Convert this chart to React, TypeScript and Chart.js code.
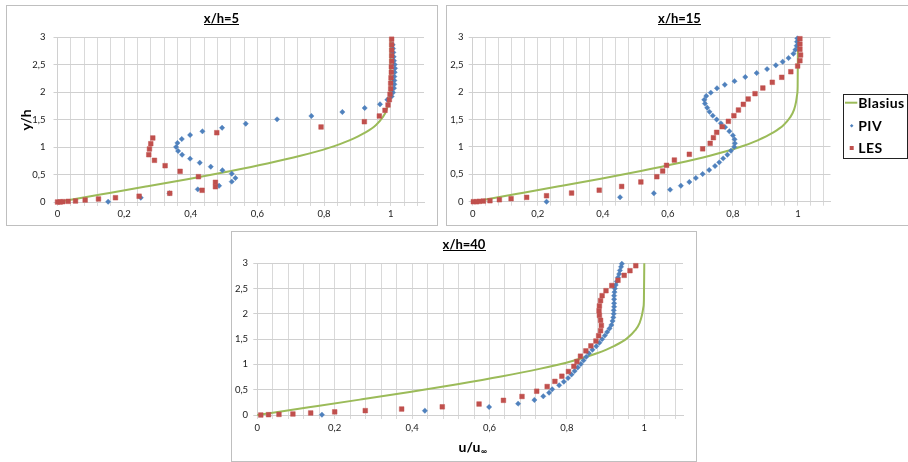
import React, { useEffect, useRef } from 'react';
import { Chart, registerables } from 'chart.js';

Chart.register(...registerables);

// ---------- data ----------
const BLASIUS_U = [0, 0.133, 0.265, 0.394, 0.517, 0.63, 0.729, 0.812, 0.876, 0.923, 0.956, 0.976, 0.988, 0.994, 0.9975, 0.999, 1.0];
const BLASIUS_Y_5 = [0, 0.14, 0.28, 0.42, 0.56, 0.7, 0.84, 0.98, 1.12, 1.26, 1.4, 1.54, 1.68, 1.82, 1.96, 2.1, 3.0];
const BLASIUS_Y_15 = [0, 0.14, 0.28, 0.42, 0.56, 0.7, 0.84, 0.98, 1.12, 1.26, 1.4, 1.54, 1.68, 1.82, 1.96, 2.1, 3.0];
const BLASIUS_Y_40 = [0, 0.152, 0.304, 0.456, 0.608, 0.76, 0.912, 1.064, 1.216, 1.368, 1.52, 1.672, 1.824, 1.976, 2.128, 2.28, 3.0];

const PIV_5: [number, number][] = [
  [0.152, 0.005], [0.25, 0.078], [0.336, 0.158], [0.421, 0.23], [0.485, 0.295], [0.523, 0.37], [0.534, 0.436],
  [0.523, 0.515], [0.495, 0.576], [0.46, 0.642], [0.427, 0.715], [0.398, 0.788], [0.374, 0.86], [0.362, 0.927],
  [0.356, 1.0], [0.36, 1.073], [0.373, 1.145], [0.398, 1.218], [0.435, 1.285], [0.494, 1.35], [0.565, 1.424],
  [0.659, 1.503], [0.762, 1.564], [0.855, 1.636], [0.922, 1.709], [0.968, 1.776], [0.99, 1.86], [1.003, 1.92],
  [1.007, 1.99], [1.01, 2.07], [1.011, 2.14], [1.011, 2.21], [1.011, 2.28], [1.012, 2.36], [1.013, 2.43],
  [1.012, 2.5], [1.01, 2.57], [1.009, 2.64], [1.008, 2.72], [1.007, 2.79], [1.006, 2.86],
];
const LES_5: [number, number][] = [
  [0.0, 0.0], [0.008, 0.0], [0.016, 0.006], [0.032, 0.012], [0.054, 0.018], [0.083, 0.036], [0.123, 0.055],
  [0.174, 0.078], [0.245, 0.105], [0.337, 0.158], [0.434, 0.213], [0.474, 0.278], [0.474, 0.358], [0.423, 0.46],
  [0.368, 0.558], [0.323, 0.66], [0.291, 0.758], [0.274, 0.86], [0.276, 0.964], [0.28, 1.06], [0.286, 1.164],
  [0.478, 1.26], [0.791, 1.364], [0.921, 1.46], [0.966, 1.564], [0.983, 1.667], [0.992, 1.764], [0.996, 1.86],
  [0.998, 1.96], [1.0, 2.06], [1.0, 2.16], [1.001, 2.26], [1.002, 2.36], [1.002, 2.46], [1.003, 2.56],
  [1.003, 2.66], [1.003, 2.76], [1.003, 2.86], [1.003, 2.96],
];

const PIV_15: [number, number][] = [
  [0.227, 0.0], [0.453, 0.08], [0.557, 0.153], [0.607, 0.22], [0.64, 0.292], [0.666, 0.36], [0.686, 0.432],
  [0.707, 0.505], [0.727, 0.578], [0.745, 0.651], [0.758, 0.718], [0.77, 0.79], [0.783, 0.858], [0.794, 0.93],
  [0.804, 1.0], [0.806, 1.065], [0.805, 1.138], [0.8, 1.21], [0.789, 1.285], [0.776, 1.36], [0.763, 1.43],
  [0.75, 1.5], [0.738, 1.57], [0.728, 1.64], [0.721, 1.715], [0.714, 1.79], [0.712, 1.86], [0.718, 1.93],
  [0.732, 1.99], [0.751, 2.07], [0.775, 2.135], [0.805, 2.2], [0.838, 2.275], [0.873, 2.348], [0.905, 2.42],
  [0.932, 2.489], [0.953, 2.555], [0.971, 2.622], [0.986, 2.7], [0.992, 2.774], [0.996, 2.847], [0.997, 2.92],
  [0.998, 2.98],
];
const LES_15: [number, number][] = [
  [0.002, 0.0], [0.012, 0.0], [0.02, 0.006], [0.033, 0.012], [0.053, 0.018], [0.082, 0.036], [0.118, 0.055],
  [0.166, 0.079], [0.227, 0.109], [0.304, 0.158], [0.389, 0.21], [0.458, 0.278], [0.517, 0.36], [0.566, 0.456],
  [0.584, 0.56], [0.596, 0.664], [0.62, 0.76], [0.666, 0.865], [0.707, 0.965], [0.73, 1.065], [0.74, 1.168],
  [0.75, 1.266], [0.767, 1.369], [0.786, 1.467], [0.803, 1.569], [0.817, 1.673], [0.832, 1.777], [0.847, 1.874],
  [0.868, 1.971], [0.892, 2.075], [0.921, 2.179], [0.95, 2.27], [0.978, 2.372], [0.999, 2.476], [1.006, 2.573],
  [1.008, 2.677], [1.006, 2.78], [1.006, 2.876], [1.006, 2.974],
];

const PIV_40: [number, number][] = [
  [0.167, 0.006], [0.433, 0.085], [0.599, 0.158], [0.674, 0.224], [0.716, 0.297], [0.739, 0.37], [0.754, 0.441],
  [0.762, 0.508], [0.78, 0.587], [0.792, 0.659], [0.803, 0.73], [0.812, 0.8], [0.82, 0.87], [0.828, 0.94],
  [0.836, 1.01], [0.843, 1.08], [0.85, 1.15], [0.857, 1.22], [0.866, 1.29], [0.876, 1.36], [0.884, 1.43],
  [0.891, 1.5], [0.898, 1.57], [0.904, 1.64], [0.91, 1.71], [0.915, 1.78], [0.918, 1.86], [0.92, 1.93],
  [0.921, 2.0], [0.921, 2.07], [0.922, 2.14], [0.922, 2.21], [0.922, 2.29], [0.922, 2.36], [0.923, 2.43],
  [0.924, 2.5], [0.926, 2.57], [0.929, 2.64], [0.932, 2.72], [0.935, 2.79], [0.937, 2.86], [0.94, 2.93],
  [0.942, 2.99],
];
const LES_40: [number, number][] = [
  [0.009, 0.0], [0.029, 0.006], [0.056, 0.012], [0.092, 0.02], [0.138, 0.04], [0.2, 0.062], [0.279, 0.086],
  [0.373, 0.118], [0.478, 0.162], [0.573, 0.217], [0.636, 0.29], [0.684, 0.366], [0.722, 0.47], [0.749, 0.563],
  [0.769, 0.665], [0.787, 0.767], [0.804, 0.86], [0.818, 0.962], [0.826, 1.057], [0.835, 1.163], [0.849, 1.268],
  [0.862, 1.367], [0.875, 1.463], [0.882, 1.568], [0.887, 1.667], [0.889, 1.77], [0.887, 1.872], [0.884, 1.97],
  [0.883, 2.063], [0.884, 2.158], [0.887, 2.262], [0.891, 2.36], [0.901, 2.458], [0.916, 2.56], [0.932, 2.664],
  [0.948, 2.762], [0.963, 2.854], [0.978, 2.952],
];

const X_LABELS = [0, 0.2, 0.4, 0.6, 0.8, 1];
const Y_TICKS = [0, 0.5, 1, 1.5, 2, 2.5, 3];
const SERIES_NAMES = ['Blasius', 'PIV', 'LES'];
const TITLES = ['x/h=5', 'x/h=15', 'x/h=40'];

// ---------- styling ----------
const FONT = "Lato, 'Open Sans', 'DejaVu Sans', sans-serif";
const GREEN = '#9BBB59';
const BLUE = '#4F81BD';
const RED = '#C0504D';
const X_MIN = 0;
const X_MAX = 1.1;
const X_MINOR = 0.04;

const fmt = (v: number) => String(+v.toFixed(2)).replace('.', ',');

type PanelCfg = {
  title: string;
  blasiusY: number[];
  piv: [number, number][];
  les: [number, number][];
  box: { left: number; top: number; width: number; height: number };
  padTop: number; padRight: number; yW: number; xH: number; yPad: number; xPad: number;
  titleX: number; titleY: number;
  yTitle?: { x: number; y: number };
  xTitle?: { x: number; y: number };
  legend?: { x0: number; y0: number; x1: number; y1: number };
};

const PANELS: PanelCfg[] = [
  {
    title: TITLES[0], blasiusY: BLASIUS_Y_5, piv: PIV_5, les: LES_5,
    box: { left: 6, top: 5, width: 432, height: 221 },
    padTop: 31, padRight: 13, yW: 50.5, xH: 23, yPad: 8, xPad: 2.5,
    titleX: 214.5, titleY: 16.7,
    yTitle: { x: 19.5, y: 114 },
  },
  {
    title: TITLES[1], blasiusY: BLASIUS_Y_15, piv: PIV_15, les: LES_15,
    box: { left: 446, top: 5, width: 467, height: 221 },
    padTop: 31.3, padRight: 81.5, yW: 25.7, xH: 23.3, yPad: 5.2, xPad: 3,
    titleX: 232.5, titleY: 16.7,
    legend: { x0: 396.5, y0: 88.5, x1: 460.5, y1: 152.5 },
  },
  {
    title: TITLES[2], blasiusY: BLASIUS_Y_40, piv: PIV_40, les: LES_40,
    box: { left: 231, top: 231, width: 466, height: 231 },
    padTop: 31.3, padRight: 13, yW: 25.3, xH: 46, yPad: 5.2, xPad: 3.5,
    titleX: 232, titleY: 17.3,
    xTitle: { x: 226.5, y: 219.5 },
  },
];

function decorPlugin(p: PanelCfg) {
  return {
    id: 'decor',
    afterDraw(chart: any) {
      const ctx: CanvasRenderingContext2D = chart.ctx;
      ctx.save();
      // underlined title
      ctx.fillStyle = '#000';
      ctx.font = `bold 13px ${FONT}`;
      ctx.textAlign = 'center';
      ctx.textBaseline = 'alphabetic';
      ctx.fillText(p.title, p.titleX, p.titleY);
      const tw = ctx.measureText(p.title).width;
      ctx.fillRect(Math.round(p.titleX - tw / 2), Math.round(p.titleY + 1), Math.round(tw), 1);

      if (p.yTitle) {
        ctx.save();
        ctx.translate(p.yTitle.x, p.yTitle.y);
        ctx.rotate(-Math.PI / 2);
        ctx.font = `bold 14px ${FONT}`;
        ctx.textAlign = 'center';
        ctx.textBaseline = 'middle';
        ctx.fillText('y/h', 0, 0);
        ctx.restore();
      }
      if (p.xTitle) {
        ctx.font = `bold 14px ${FONT}`;
        ctx.textAlign = 'left';
        ctx.textBaseline = 'alphabetic';
        ctx.fillText('u/u', p.xTitle.x, p.xTitle.y);
        const w = ctx.measureText('u/u').width;
        ctx.font = `bold 8px ${FONT}`;
        ctx.fillText('\u221E', p.xTitle.x + w + 0.5, p.xTitle.y + 2);
      }
      if (p.legend) {
        const L = p.legend;
        ctx.strokeStyle = '#222';
        ctx.lineWidth = 1;
        ctx.strokeRect(L.x0, L.y0, L.x1 - L.x0, L.y1 - L.y0);
        const mx = L.x0 + 8.2;
        const tx = L.x0 + 14.8;
        const rows = [L.y0 + 8.2, L.y0 + 31.2, L.y0 + 53.5];
        // Blasius line
        ctx.strokeStyle = GREEN;
        ctx.lineWidth = 2;
        ctx.beginPath();
        ctx.moveTo(L.x0 + 1.5, rows[0]);
        ctx.lineTo(L.x0 + 13.8, rows[0]);
        ctx.stroke();
        // PIV diamond
        ctx.fillStyle = BLUE;
        ctx.beginPath();
        const r = 1.8;
        ctx.moveTo(mx - r, rows[1]);
        ctx.lineTo(mx, rows[1] - r);
        ctx.lineTo(mx + r, rows[1]);
        ctx.lineTo(mx, rows[1] + r);
        ctx.closePath();
        ctx.fill();
        // LES square
        ctx.fillStyle = RED;
        ctx.fillRect(mx - 2, rows[2] - 2, 4, 4);
        // texts
        ctx.fillStyle = '#000';
        ctx.font = `bold 14px ${FONT}`;
        ctx.textAlign = 'left';
        ctx.textBaseline = 'middle';
        try { (ctx as any).letterSpacing = '0.4px'; } catch (e) { /* ignore */ }
        SERIES_NAMES.forEach((n, i) => ctx.fillText(n, tx, rows[i] + 0.5));
        try { (ctx as any).letterSpacing = '0px'; } catch (e) { /* ignore */ }
      }
      ctx.restore();
    },
  };
}

function buildConfig(p: PanelCfg): any {
  const gridX: number[] = [];
  for (let v = X_MIN; v < X_MAX - 1e-9; v += X_MINOR) gridX.push(+v.toFixed(2));
  const isLabel = (v: number) => X_LABELS.some((l) => Math.abs(l - v) < 1e-6);
  return {
    type: 'scatter',
    data: {
      datasets: [
        {
          label: SERIES_NAMES[0],
          data: BLASIUS_U.map((u, i) => ({ x: u, y: p.blasiusY[i] })),
          showLine: true,
          borderColor: GREEN,
          borderWidth: 2,
          pointRadius: 0,
          cubicInterpolationMode: 'monotone',
          order: 2,
          clip: false,
        },
        {
          label: SERIES_NAMES[1],
          data: p.piv.map(([x, y]) => ({ x, y })),
          showLine: false,
          pointStyle: 'rectRot',
          pointRadius: 2.7,
          backgroundColor: BLUE,
          borderColor: 'rgba(79,129,189,0.6)',
          borderWidth: 0.6,
          order: 1,
          clip: false,
        },
        {
          label: SERIES_NAMES[2],
          data: p.les.map(([x, y]) => ({ x, y })),
          showLine: false,
          pointStyle: 'rect',
          pointRadius: 3.3,
          backgroundColor: RED,
          borderColor: 'rgba(192,80,77,0.45)',
          borderWidth: 1,
          order: 0,
          clip: false,
        },
      ],
    },
    options: {
      responsive: false,
      maintainAspectRatio: false,
      animation: false,
      events: [],
      layout: { padding: { left: 0, right: p.padRight, top: p.padTop, bottom: 0 } },
      plugins: { legend: { display: false }, tooltip: { enabled: false }, title: { display: false } },
      scales: {
        x: {
          type: 'linear',
          min: X_MIN,
          max: X_MAX,
          afterBuildTicks: (s: any) => { s.ticks = gridX.map((v) => ({ value: v })); },
          afterFit: (s: any) => { s.height = p.xH; },
          grid: { color: '#d9d9d9', lineWidth: 1, tickLength: 4, drawTicks: true },
          border: { color: '#d0d0d0' },
          ticks: {
            autoSkip: false,
            maxRotation: 0,
            padding: p.xPad,
            color: '#1a1a1a',
            font: { family: FONT, size: 9.5 },
            callback: (v: number) => (isLabel(v) ? fmt(v) : ''),
          },
        },
        y: {
          type: 'linear',
          min: 0,
          max: 3,
          afterBuildTicks: (s: any) => { s.ticks = Y_TICKS.map((v) => ({ value: v })); },
          afterFit: (s: any) => { s.width = p.yW; },
          grid: { color: '#d0d0d0', lineWidth: 1, tickLength: 4, drawTicks: true },
          border: { color: '#d0d0d0' },
          ticks: {
            padding: p.yPad,
            color: '#1a1a1a',
            font: { family: FONT, size: 9.5 },
            callback: (v: number) => fmt(v),
          },
        },
      },
    },
    plugins: [decorPlugin(p)],
  };
}

function Panel({ p }: { p: PanelCfg }) {
  const ref = useRef<HTMLCanvasElement | null>(null);
  useEffect(() => {
    if (!ref.current) return;
    const chart = new Chart(ref.current, buildConfig(p));
    return () => chart.destroy();
  }, [p]);
  const { left, top, width, height } = p.box;
  return (
    <div
      style={{
        position: 'absolute', left, top, width, height,
        border: '1px solid #bfbfbf', boxSizing: 'border-box', background: '#fff',
      }}
    >
      <canvas
        ref={ref}
        width={width - 2}
        height={height - 2}
        style={{ position: 'absolute', left: 0, top: 0, width: width - 2, height: height - 2 }}
      />
    </div>
  );
}

export default function App() {
  return (
    <div style={{ position: 'absolute', left: 0, top: 0, width: 908, height: 462, overflow: 'hidden', background: '#fff' }}>
      {PANELS.map((p, i) => <Panel key={i} p={p} />)}
    </div>
  );
}
